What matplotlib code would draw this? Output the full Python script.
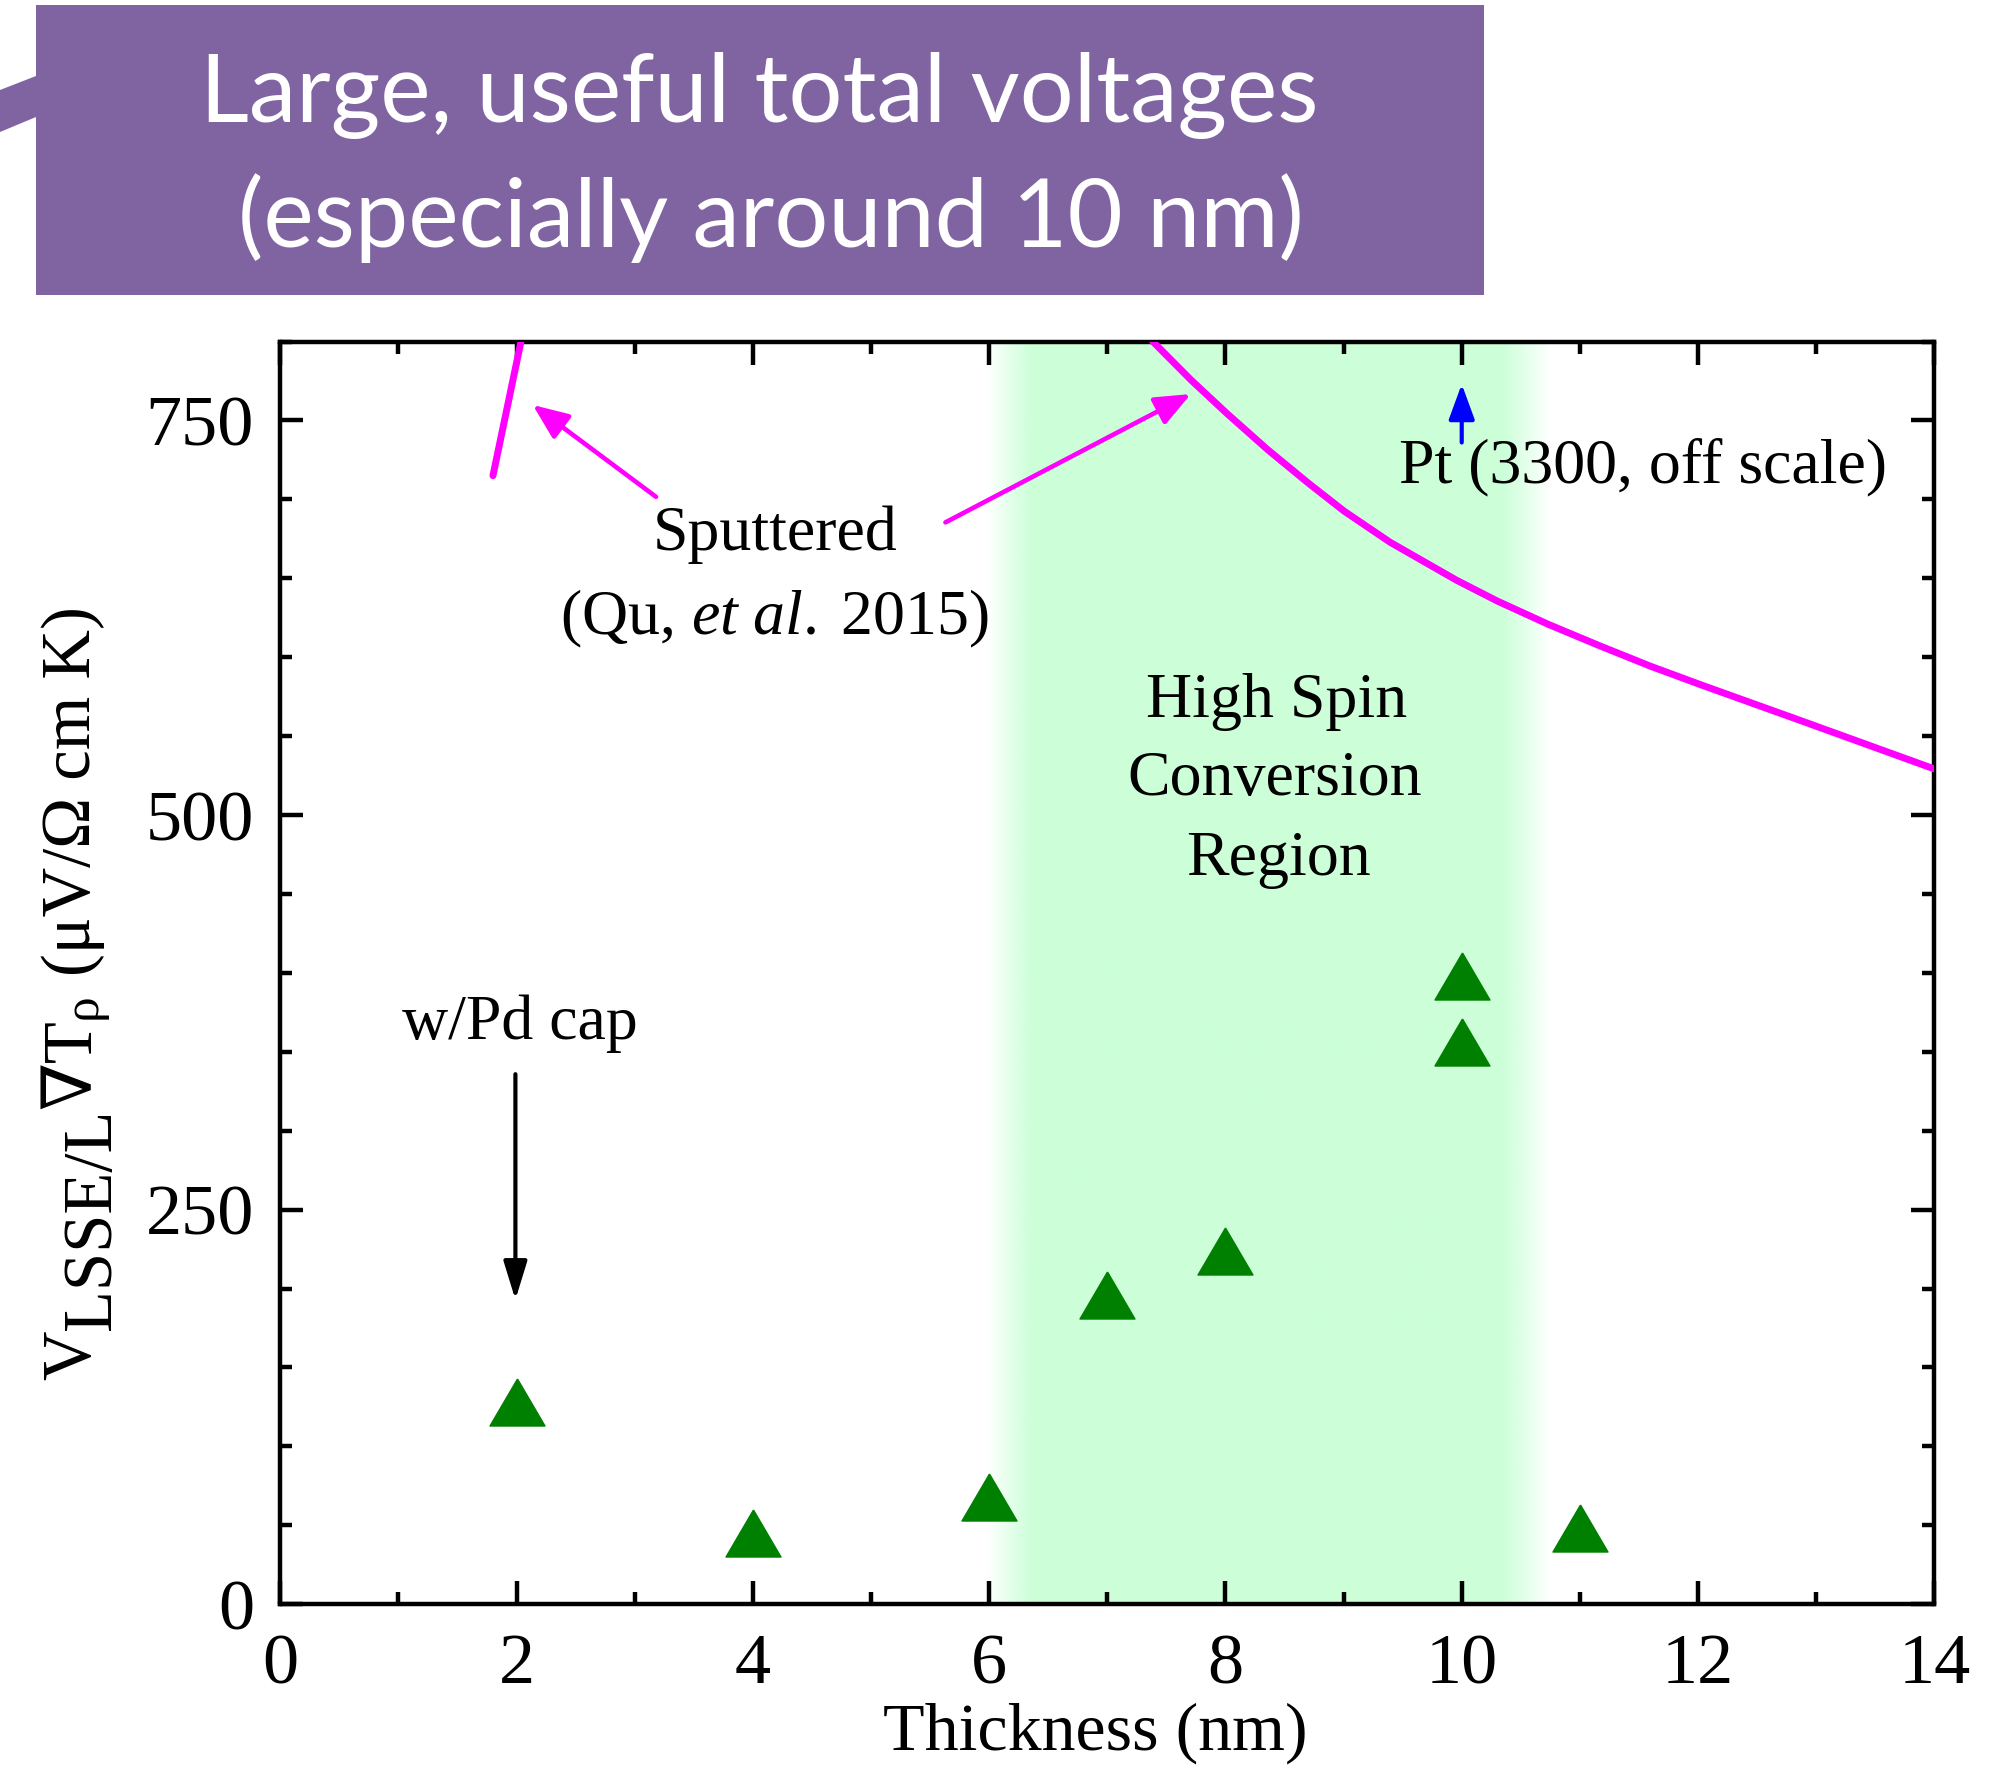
import numpy as np
import matplotlib
matplotlib.use("Agg")
import matplotlib.pyplot as plt
from matplotlib.patches import Rectangle, Polygon
from matplotlib.ticker import MultipleLocator

# ---------------- data ----------------
thickness_nm = [2, 4, 6, 7, 8, 10, 10, 11]
voltage_ratio = [128, 45, 68, 196, 224, 398, 356, 48]

# sputtered Pt (Qu et al. 2015) curves
sput_left_x = [1.80, 2.04]
sput_left_y = [715, 801]
sput_right_x = [7.385, 7.709, 8.011, 8.357, 8.703, 9.005, 9.394, 9.955, 10.30,
                10.733, 11.165, 11.597, 12.028, 12.46, 12.892, 13.324, 13.756, 14.0]
sput_right_y = [800, 775.6, 754.5, 731.5, 710.2, 692.5, 672.8, 648.8, 635.6,
                620.8, 607.3, 594.3, 582.4, 570.8, 559.2, 547.5, 535.8, 529.2]

x_major_ticks = [0, 2, 4, 6, 8, 10, 12, 14]
y_major_ticks = [0, 250, 500, 750]

title_lines = ["Large, useful total voltages", "(especially around 10 nm)"]
x_label = "Thickness (nm)"
# y label pieces: (text, baseline shift in px, relative size)
y_label_pieces = [("V", 0, 1.0), ("LSSE/L", 20, 1.0), ("∇T", 0, 1.0),
                  ("ρ", 6, 0.75), ("(μV/Ω cm K)", 0, 1.0)]

# band of high spin conversion (ramp edges, data units)
band_edges = [5.97, 6.35, 10.35, 10.75]

# ---------------- style ----------------
SERIF = ["Liberation Serif", "DejaVu Serif"]
plt.rcParams["font.family"] = SERIF
plt.rcParams["mathtext.fontset"] = "custom"
plt.rcParams["mathtext.rm"] = "Liberation Serif"
plt.rcParams["mathtext.it"] = "Liberation Serif:italic"
plt.rcParams["mathtext.bf"] = "Liberation Serif:bold"

W, H = 1998, 1772
fig = plt.figure(figsize=(W / 100, H / 100), dpi=100)
fig.patch.set_facecolor("white")
renderer = fig.canvas.get_renderer()

# banner
purple = "#8064A2"
fig.patches.append(Rectangle((36 / W, 1 - 295 / H), (1484 - 36) / W, 290 / H,
                             transform=fig.transFigure, facecolor=purple,
                             edgecolor="none", zorder=0))
fig.patches.append(Polygon([(0, 1 - 90 / H), (36 / W, 1 - 76 / H),
                            (36 / W, 1 - 117 / H), (0, 1 - 132 / H)],
                           closed=True, transform=fig.transFigure,
                           facecolor=purple, edgecolor="none", zorder=0))

t1 = fig.text(759.6 / W, 1 - 121.7 / H, title_lines[0], ha="center", va="baseline",
              color="white", family="Lato", fontsize=70)
t2 = fig.text(771 / W, 1 - 246.7 / H, title_lines[1], ha="center", va="baseline",
              color="white", family="Lato", fontsize=70)
w1 = t1.get_window_extent(renderer).width
fs_title = 70 * 1119 / w1
t1.set_fontsize(fs_title)
t2.set_fontsize(fs_title)

# axes
ax = fig.add_axes([280.3 / W, 1 - 1604.2 / H, 1654 / W, 1262.7 / H])

# green band with soft edges
xs = np.linspace(band_edges[0], band_edges[-1], 600)
alpha = np.interp(xs, band_edges, [0, 1, 1, 0])
rgba = np.zeros((1, xs.size, 4))
rgba[..., 0] = 0.80
rgba[..., 1] = 1.00
rgba[..., 2] = 0.85
rgba[0, :, 3] = alpha
ax.imshow(rgba, extent=[band_edges[0], band_edges[-1], 0, 800], aspect="auto",
          interpolation="bilinear", zorder=0)

# sputtered curves
ax.plot(sput_left_x, sput_left_y, color="#FF00FF", lw=5.0, solid_capstyle="round",
        solid_joinstyle="round", zorder=3)
ax.plot(sput_right_x, sput_right_y, color="#FF00FF", lw=5.0, solid_capstyle="round",
        solid_joinstyle="round", zorder=3)

# data triangles
tri = [(0, 0.855), (-1, -0.855), (1, -0.855), (0, 0.855)]
ax.plot(thickness_nm, voltage_ratio, linestyle="none", marker=tri, ms=39.6,
        color="#008000", mec="#008000", mew=1.0, zorder=5)

ax.set_xlim(0, 14)
ax.set_ylim(0, 800)
ax.set_xticks(x_major_ticks)
ax.set_yticks(y_major_ticks)
ax.xaxis.set_minor_locator(MultipleLocator(1))
ax.yaxis.set_minor_locator(MultipleLocator(50))

for s in ax.spines.values():
    s.set_linewidth(3.2)
ax.tick_params(which="both", direction="in", top=True, right=True, width=3.2,
               labelsize=52, colors="black")
ax.tick_params(which="major", length=16.5)
ax.tick_params(which="minor", length=8.6)
ax.tick_params(axis="x", which="major", pad=21)
ax.tick_params(axis="y", which="major", pad=19)

ax.set_xlabel(x_label, fontsize=49, va="baseline")
ax.xaxis.set_label_coords(0.4926, -0.1155)

# y label built from rotated pieces (full-size lowered subscript as in reference)
def build_ylabel(fs, draw):
    y = 1772 - 1380.0          # display px (from bottom) where label starts
    xb = 90.0                  # baseline x, display px
    gap_t = fig.text(0, 0, "a a", fontsize=fs)
    gap_t2 = fig.text(0, 0, "aa", fontsize=fs)
    space = gap_t.get_window_extent(renderer).width - gap_t2.get_window_extent(renderer).width
    gap_t.remove()
    gap_t2.remove()
    texts = []
    for i, (txt, shift, scale) in enumerate(y_label_pieces):
        if i == len(y_label_pieces) - 1:
            y += space
        t = fig.text((xb + shift) / W, y / H, txt, rotation=90, rotation_mode="anchor",
                     ha="left", va="baseline", fontsize=fs * scale, family=SERIF)
        y += t.get_window_extent(renderer).height
        texts.append(t)
    if not draw:
        for t in texts:
            t.remove()
    return y - (1772 - 1380.0)

total = build_ylabel(49, draw=False)
fs_y = 49 * 773 / total
build_ylabel(fs_y, draw=True)

# annotations
fs_ann = 46
ax.text(4.185, 667.9, "Sputtered", fontsize=fs_ann, ha="center", va="baseline", zorder=6)
ax.text(4.18, 614.4, r"(Qu, $\mathit{et\ al.}\;$2015)", fontsize=fs_ann, ha="center",
        va="baseline", zorder=6)
ax.text(2.03, 358.4, "w/Pd cap", fontsize=fs_ann, ha="center", va="baseline", zorder=6)
ax.text(11.535, 710.5, "Pt (3300, off scale)", fontsize=fs_ann, ha="center",
        va="baseline", zorder=6)
ax.text(8.434, 562.3, "High Spin", fontsize=fs_ann, ha="center", va="baseline", zorder=6)
ax.text(8.42, 512.6, "Conversion", fontsize=fs_ann, ha="center", va="baseline", zorder=6)
ax.text(8.45, 462.0, "Region", fontsize=fs_ann, ha="center", va="baseline", zorder=6)

def arrow(tail, tip, color, lw, hl, hw, ms):
    ax.annotate("", xy=tip, xytext=tail,
                arrowprops=dict(arrowstyle=f"-|>,head_length={hl},head_width={hw}",
                                color=color, lw=lw, mutation_scale=ms,
                                shrinkA=0, shrinkB=0), zorder=6)

arrow((3.18, 701.6), (2.137, 759.8), "#FF00FF", 3.3, 0.6, 0.25, 36)
arrow((5.63, 685.4), (7.707, 766.7), "#FF00FF", 3.3, 0.6, 0.25, 36)
arrow((10.0, 736.0), (10.0, 773.0), "#0000FF", 3.0, 0.6, 0.22, 36)
arrow((1.99, 335.8), (1.99, 192.9), "black", 3.0, 0.65, 0.2, 36)

fig.savefig("out.png", dpi=100, facecolor="white")
